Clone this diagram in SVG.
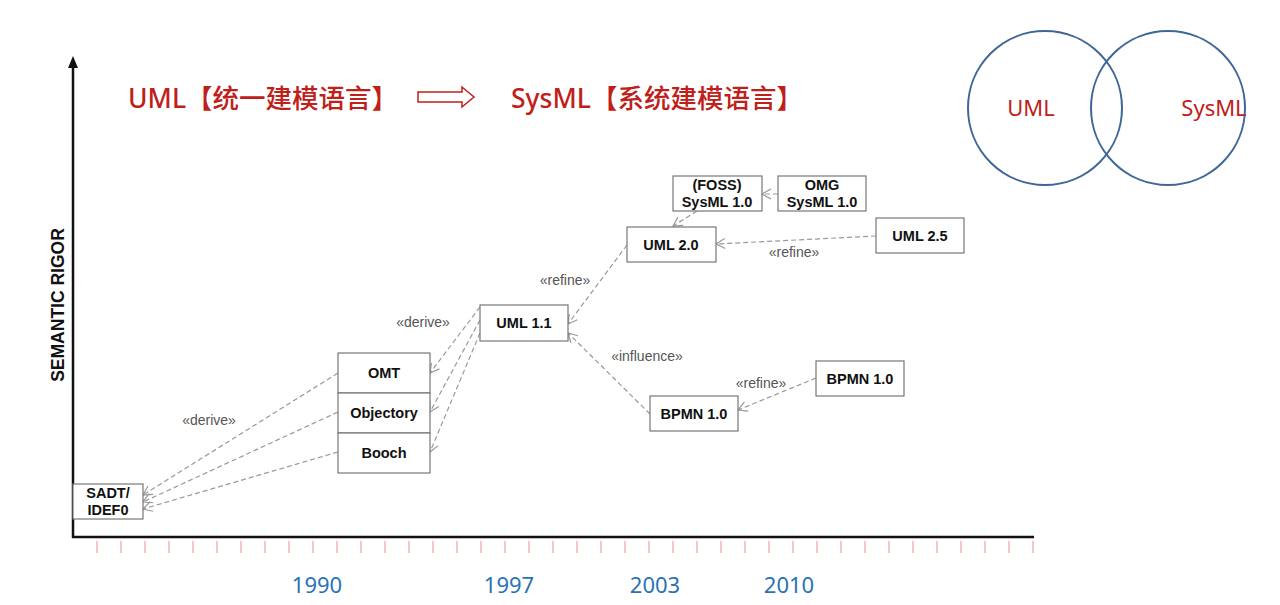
<svg xmlns="http://www.w3.org/2000/svg" width="1280" height="605" viewBox="0 0 1280 605">
<style>
.n rect{fill:#fff;stroke:#777;stroke-width:1.2}
.n text{font-family:"Liberation Sans",Arial,sans-serif;font-weight:bold;font-size:14.5px;fill:#111;text-anchor:middle}
.c path{fill:none;stroke:#999;stroke-width:1.2;stroke-dasharray:5,3}
.lbl{font-family:"Liberation Sans",Arial,sans-serif;font-size:14px;fill:#555;text-anchor:middle}
.yr{font-family:"Noto Sans",sans-serif;font-size:22px;fill:#2a72b5;text-anchor:middle}
.ttl{font-family:"Noto Sans","Noto Sans CJK SC",sans-serif;font-size:26.5px;font-weight:500;fill:#c0201a}
.tick{stroke:#f3a0a0;stroke-width:1.2}
</style>
<defs>
<marker id="oa" markerWidth="12" markerHeight="12" refX="10" refY="6" orient="auto" markerUnits="userSpaceOnUse">
<path d="M1,1 L10,6 L1,11" fill="none" stroke="#999" stroke-width="1.2"/>
</marker>
<marker id="ax" markerWidth="12" markerHeight="12" refX="6" refY="10" orient="0" markerUnits="userSpaceOnUse">
<path d="M1,12 L6,0 L11,12 Z" fill="#111"/>
</marker>
</defs>
<rect width="1280" height="605" fill="#fff"/>
<g id="axes">
<line x1="73" y1="538" x2="73" y2="66" stroke="#111" stroke-width="2.5" marker-end="url(#ax)"/>
<line x1="72" y1="537" x2="1034" y2="537" stroke="#111" stroke-width="2.5"/>
<g class="tick">
<path d="M97,541V553M121,541V553M145,541V553M169,541V553M193,541V553M217,541V553M241,541V553M265,541V553M289,541V553M313,541V553M337,541V553M361,541V553M385,541V553M409,541V553M433,541V553M457,541V553M481,541V553M505,541V553M529,541V553M553,541V553M577,541V553M601,541V553M625,541V553M649,541V553M673,541V553M697,541V553M721,541V553M745,541V553M769,541V553M793,541V553M817,541V553M841,541V553M865,541V553M889,541V553M913,541V553M937,541V553M961,541V553M985,541V553M1009,541V553M1033,541V553"/>
</g>
<text x="64" y="305" transform="rotate(-90 64 305)" font-family="Liberation Sans,Arial,sans-serif" font-weight="bold" font-size="17.5" text-anchor="middle" fill="#111">SEMANTIC  RIGOR</text>
<text class="yr" x="317" y="593">1990</text>
<text class="yr" x="509" y="593">1997</text>
<text class="yr" x="655" y="593">2003</text>
<text class="yr" x="789" y="593">2010</text>
</g>
<g id="title">
<text class="ttl" x="128" y="108">UML【统一建模语言】</text>
<path d="M418,92 H462 V87 L474,97 L462,107 V102 H418 Z" fill="none" stroke="#c0201a" stroke-width="1.5"/>
<text class="ttl" x="511" y="108">SysML【系统建模语言】</text>
</g>
<g id="venn">
<circle cx="1045" cy="108" r="77" fill="none" stroke="#3f6796" stroke-width="2"/>
<circle cx="1168" cy="108" r="77" fill="none" stroke="#3f6796" stroke-width="2"/>
<text x="1031" y="116" font-family="Noto Sans,sans-serif" font-size="22" fill="#c0201a" text-anchor="middle">UML</text>
<text x="1214" y="116" font-family="Noto Sans,sans-serif" font-size="22" fill="#c0201a" text-anchor="middle">SysML</text>
</g>
<g id="connectors" class="c">
<path d="M338,373 L143,495" marker-end="url(#oa)"/>
<path d="M338,412 L143,502" marker-end="url(#oa)"/>
<path d="M338,452 L143,509" marker-end="url(#oa)"/>
<path d="M480,307 L430,373" marker-end="url(#oa)"/>
<path d="M480,320 L430,412" marker-end="url(#oa)"/>
<path d="M480,333 L430,452" marker-end="url(#oa)"/>
<path d="M627,245 L568,324" marker-end="url(#oa)"/>
<path d="M650,414 L568,333" marker-end="url(#oa)"/>
<path d="M816,378 L738,410" marker-end="url(#oa)"/>
<path d="M876,236 L716,244" marker-end="url(#oa)"/>
<path d="M778,194 L762,194" marker-end="url(#oa)"/>
<path d="M697,211 L673,226" marker-end="url(#oa)"/>
</g>
<g id="labels">
<text class="lbl" x="423" y="327">«derive»</text>
<text class="lbl" x="209" y="425">«derive»</text>
<text class="lbl" x="565" y="285">«refine»</text>
<text class="lbl" x="794" y="257">«refine»</text>
<text class="lbl" x="647" y="361">«influence»</text>
<text class="lbl" x="761" y="388">«refine»</text>
</g>
<g id="sadt" class="n"><rect x="73" y="484" width="70" height="35"/><text x="108" y="498">SADT/</text><text x="108" y="515">IDEF0</text></g>
<g id="omt" class="n"><rect x="338" y="353" width="92" height="40"/><text x="384" y="378">OMT</text></g>
<g id="objectory" class="n"><rect x="338" y="393" width="92" height="40"/><text x="384" y="418">Objectory</text></g>
<g id="booch" class="n"><rect x="338" y="433" width="92" height="40"/><text x="384" y="458">Booch</text></g>
<g id="uml11" class="n"><rect x="480" y="305" width="88" height="36"/><text x="524" y="328">UML 1.1</text></g>
<g id="uml20" class="n"><rect x="627" y="227" width="89" height="35"/><text x="671" y="250">UML 2.0</text></g>
<g id="foss" class="n"><rect x="673" y="176" width="89" height="35"/><text x="717" y="190">(FOSS)</text><text x="717" y="207">SysML 1.0</text></g>
<g id="omg" class="n"><rect x="778" y="176" width="88" height="35"/><text x="822" y="190">OMG</text><text x="822" y="207">SysML 1.0</text></g>
<g id="uml25" class="n"><rect x="876" y="218" width="88" height="35"/><text x="920" y="241">UML 2.5</text></g>
<g id="bpmn2" class="n"><rect x="816" y="361" width="88" height="35"/><text x="860" y="384">BPMN 1.0</text></g>
<g id="bpmn1" class="n"><rect x="650" y="396" width="88" height="35"/><text x="694" y="419">BPMN 1.0</text></g>
</svg>
